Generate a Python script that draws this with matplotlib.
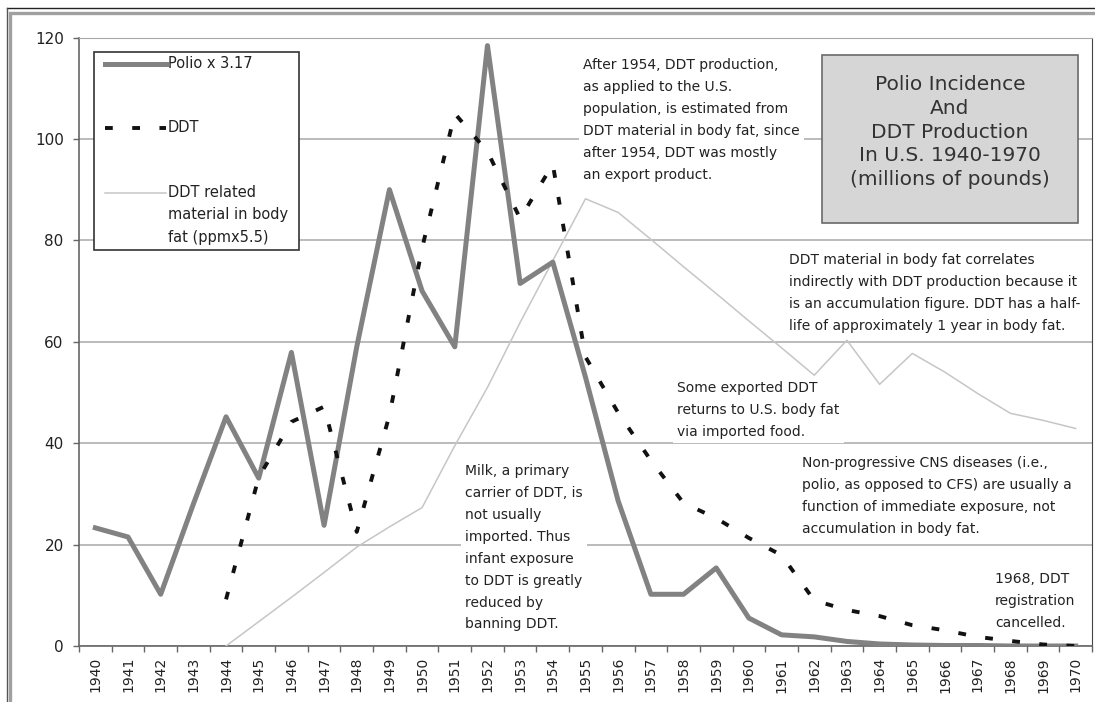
import matplotlib
matplotlib.use("Agg")
import matplotlib.pyplot as plt
from matplotlib.lines import Line2D
from matplotlib.patches import Rectangle
import numpy as np

W, H = 1095, 702  # output size in px (dpi 100)

years = [1940, 1941, 1942, 1943, 1944, 1945, 1946, 1947, 1948, 1949,
         1950, 1951, 1952, 1953, 1954, 1955, 1956, 1957, 1958, 1959,
         1960, 1961, 1962, 1963, 1964, 1965, 1966, 1967, 1968, 1969, 1970]
polio = [23.3, 21.5, 10.2, 28.0, 45.2, 33.1, 57.9, 23.8, 59.0, 90.0,
         70.0, 59.0, 118.4, 71.5, 75.7, 53.0, 28.6, 10.2, 10.2, 15.4,
         5.5, 2.2, 1.8, 0.9, 0.4, 0.2, 0.1, 0.1, 0.0, 0.0, 0.0]
ddt = [np.nan, np.nan, np.nan, np.nan, 9.2, 33.3, 44.2, 47.2, 22.5, 45.5,
       78.5, 105.0, 97.5, 84.3, 95.0, 57.0, 46.0, 36.6, 28.2, 25.2,
       21.3, 17.9, 9.0, 7.1, 5.9, 4.1, 3.1, 1.8, 1.0, 0.3, 0.0]
body_fat = [np.nan, np.nan, np.nan, np.nan, 0.0, 4.8, 9.6, 14.5, 19.5, 23.5,
            27.3, 39.5, 51.0, 63.8, 76.0, 88.2, 85.5, 80.2, 74.8, 69.5,
            64.1, 58.8, 53.4, 60.3, 51.6, 57.7, 54.0, 49.8, 45.9, 44.5, 42.9]
y_ticks = [0, 20, 40, 60, 80, 100, 120]

legend_labels = ["Polio x 3.17", "DDT", "DDT related\nmaterial in body\nfat (ppmx5.5)"]
title_text = "Polio Incidence\nAnd\nDDT Production\nIn U.S. 1940-1970\n(millions of pounds)"

# (left px, top px, text)
notes = [
    (583, 58, "After 1954, DDT production,\nas applied to the U.S.\npopulation, is estimated from\n"
              "DDT material in body fat, since\nafter 1954, DDT was mostly\nan export product."),
    (789, 253, "DDT material in body fat correlates\nindirectly with DDT production because it\n"
               "is an accumulation figure. DDT has a half-\nlife of approximately 1 year in body fat."),
    (677, 381, "Some exported DDT\nreturns to U.S. body fat\nvia imported food."),
    (802, 456, "Non-progressive CNS diseases (i.e.,\npolio, as opposed to CFS) are usually a\n"
               "function of immediate exposure, not\naccumulation in body fat."),
    (465, 464, "Milk, a primary\ncarrier of DDT, is\nnot usually\nimported. Thus\ninfant exposure\n"
               "to DDT is greatly\nreduced by\nbanning DDT."),
    (995, 572, "1968, DDT\nregistration\ncancelled."),
]


def fx(px):
    return px / W


def fy(py):
    return 1 - py / H


fig = plt.figure(figsize=(W / 100, H / 100), dpi=100)
fig.patch.set_facecolor("white")

ax = fig.add_axes([fx(79), fy(646), fx(1092) - fx(79), fy(37.5) - fy(646)])
x = np.arange(len(years))

ax.plot(x, body_fat, color="#c6c6c6", lw=1.1, zorder=3)
ax.plot(x, polio, color="#828282", lw=3.6, zorder=4)
ax.plot(x, ddt, color="#111111", lw=2.8, dashes=(2.0, 5.0), dash_capstyle="butt", zorder=5)

ax.set_xlim(-0.5, len(years) - 0.5)
ax.set_ylim(0, 120)
ax.set_yticks(y_ticks)
ax.set_xticks(x)
ax.set_xticklabels([str(y) for y in years], rotation=90, fontsize=10, color="#222222")
ax.set_xticks(np.arange(-0.5, len(years), 1), minor=True)
ax.tick_params(axis="x", which="major", length=0, pad=8)
ax.tick_params(axis="x", which="minor", length=4, width=1, color="#666666", direction="out")
ax.tick_params(axis="y", length=4, width=1, color="#666666", pad=7, labelsize=11, labelcolor="#222222")

ax.grid(axis="y", color="#a8a8a8", lw=1.1)
ax.set_axisbelow(True)
for side in ["left", "bottom"]:
    ax.spines[side].set_color("#666666")
    ax.spines[side].set_linewidth(1.2)
ax.spines["top"].set_color("#a8a8a8")
ax.spines["right"].set_color("#444444")

# legend, Excel-like box
fig.add_artist(Rectangle((fx(94), fy(250)), fx(299) - fx(94), fy(52) - fy(250),
                         transform=fig.transFigure, facecolor="white", edgecolor="#333333", lw=1.2, zorder=10))
handle_y = [64, 128, 193]
styles = [dict(color="#828282", lw=3.6),
          dict(color="#111111", lw=2.8, dashes=(2.0, 5.0), dash_capstyle="butt"),
          dict(color="#c6c6c6", lw=1.1)]
for hy, st, lab in zip(handle_y, styles, legend_labels):
    fig.add_artist(Line2D([fx(105), fx(166)], [fy(hy), fy(hy)], transform=fig.transFigure, zorder=11, **st))
    if "\n" in lab:
        fig.text(fx(168), fy(hy - 8), lab, ha="left", va="top", fontsize=10.5, color="#222222",
                 linespacing=1.62, zorder=11)
    else:
        fig.text(fx(168), fy(hy), lab, ha="left", va="center", fontsize=10.5, color="#222222", zorder=11)

# title box
fig.add_artist(Rectangle((fx(822), fy(223)), fx(1078) - fx(822), fy(55) - fy(223),
                         transform=fig.transFigure, facecolor="#d6d6d6", edgecolor="#6a6a6a", lw=1.2, zorder=10))
fig.text(fx(950), fy(132), title_text, ha="center", va="center", multialignment="center",
         fontsize=14.5, color="#333333", linespacing=1.32, zorder=11)

for lx, ty, txt in notes:
    fig.text(fx(lx), fy(ty), txt, ha="left", va="top", fontsize=10, color="#222222", linespacing=1.72,
             zorder=9, bbox=dict(facecolor="white", edgecolor="none", pad=3))

# outer chart frame
fig.add_artist(Rectangle((fx(10), fy(H + 5)), fx(W + 10) - fx(10), fy(13) - fy(H + 5),
                         transform=fig.transFigure, facecolor="none", edgecolor="#a0a0a0", lw=2.4, zorder=12))
fig.add_artist(Line2D([fx(7), fx(W)], [fy(8), fy(8)], transform=fig.transFigure, color="#222222", lw=1, zorder=12))
fig.add_artist(Line2D([fx(7), fx(7)], [fy(8), fy(H)], transform=fig.transFigure, color="#555555", lw=1, zorder=12))

fig.savefig("out.png", dpi=100)
